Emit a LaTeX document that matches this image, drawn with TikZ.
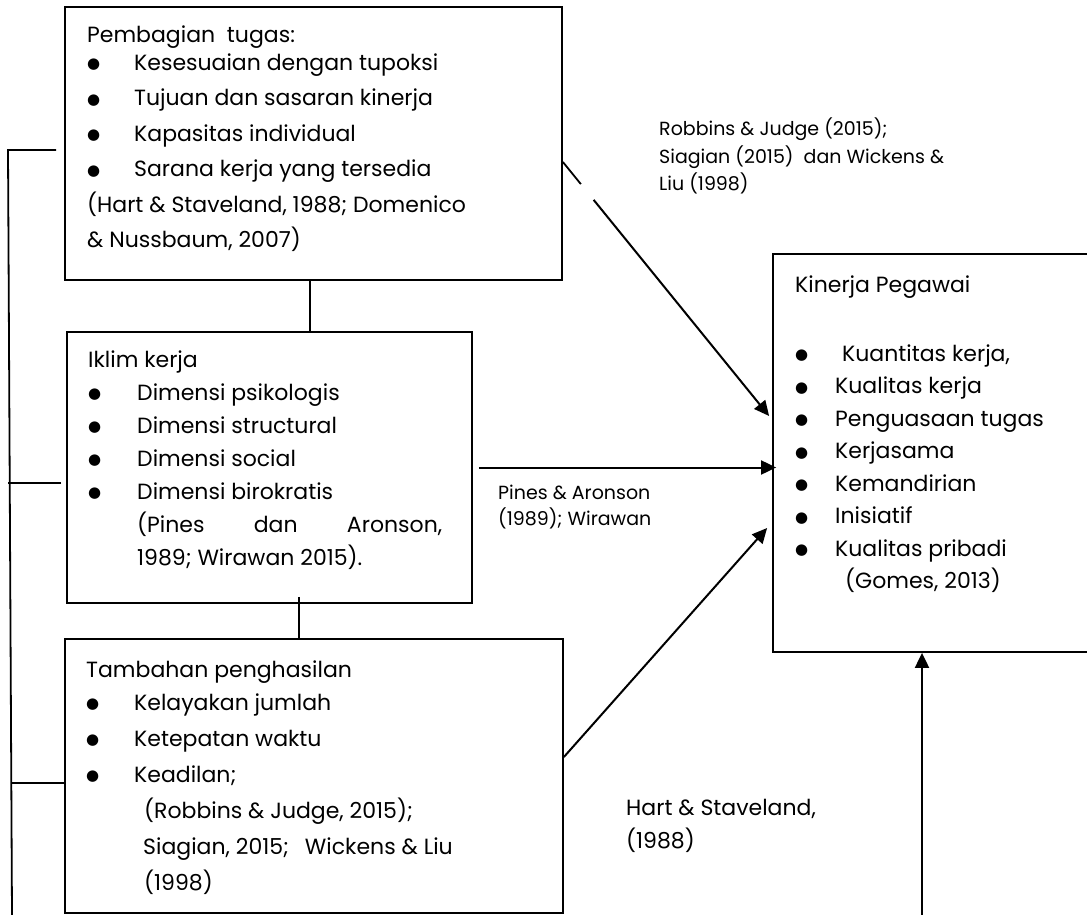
\documentclass[tikz,border=0pt]{standalone}
\usepackage{fontspec}
\setmainfont{Poppins}
\newfontfamily\dotfont{DejaVu Sans}
\usetikzlibrary{arrows.meta,calc}

\newcommand{\bul}[1][47pt]{\makebox[#1][l]{\raisebox{1.5pt}{\fontsize{15}{15}\dotfont ●}}}
\newcommand{\tstrut}{\rule{0pt}{20pt}}
\newcommand{\rstrut}{\rule{0pt}{17pt}}

\tikzset{
  box/.style={draw, line width=1.8pt, inner sep=0pt},
  txt/.style={anchor=north west, inner sep=0pt, align=left, font=\fontsize{22}{#1}\selectfont},
  txt/.default=35.5,
  ref/.style={anchor=north west, inner sep=0pt, align=left, font=\fontsize{19}{#1}\selectfont},
  ref/.default=27.5,
  link/.style={line width=1.8pt},
  arr/.style={line width=2pt, -{Triangle[length=15pt,width=14pt]}},
}

\begin{document}
\begin{tikzpicture}[x=1pt,y=-1pt]
\clip (0,0) rectangle (1087,915);
\fill[white] (0,0) rectangle (1087,915);

% kotak
\node[box, minimum width=497pt, minimum height=273pt] (tugas) at (313.5,143.5) {};
\node[box, minimum width=405pt, minimum height=271pt] (iklim) at (269.5,467.5) {};
\node[box, minimum width=498pt, minimum height=274pt] (tambahan) at (314,776) {};
\node[box, minimum width=337pt, minimum height=398pt] (kinerja) at (941.5,453) {};

% isi kotak
\node[txt] (tugas txt) at (87,22) {\tstrut Pembagian \ tugas:\\[-7.5pt]
  \bul Kesesuaian dengan tupoksi\\
  \bul Tujuan dan sasaran kinerja\\
  \bul Kapasitas individual\\
  \bul Sarana kerja yang tersedia\\
  (Hart \& Staveland, 1988; Domenico\\
  \& Nussbaum, 2007)};
\node[txt=33] (iklim txt) at (88,347) {\tstrut Iklim kerja\\
  \bul[49pt]Dimensi psikologis\\
  \bul[49pt]Dimensi structural\\
  \bul[49pt]Dimensi social\\
  \bul[49pt]Dimensi birokratis\\
  \hspace*{49pt}\makebox[305pt][s]{(Pines\hfill dan\hfill Aronson,}\\
  \hspace*{49pt}1989; Wirawan 2015).};
\node[txt=36] (tambahan txt) at (86,657) {\tstrut Tambahan penghasilan\\[-3pt]
  \bul[48pt]Kelayakan jumlah\\
  \bul[48pt]Ketepatan waktu\\
  \bul[48pt]Keadilan;\\
  \hspace*{58pt}(Robbins \& Judge, 2015);\\
  \hspace*{57pt}Siagian, 2015;\hspace{16pt}Wickens \& Liu\\
  \hspace*{58pt}(1998)};
\node[txt=32.5] (kinerja txt) at (795,272) {\tstrut Kinerja Pegawai\\[36.5pt]
  \bul[40pt]\hspace{7pt}Kuantitas kerja,\\
  \bul[40pt]Kualitas kerja\\
  \bul[40pt]Penguasaan tugas\\
  \bul[40pt]Kerjasama\\
  \bul[40pt]Kemandirian\\
  \bul[40pt]Inisiatif\\
  \bul[40pt]Kualitas pribadi\\
  \hspace*{50pt}(Gomes, 2013)};

% rujukan
\node[ref] (robbins) at (659,118) {\rstrut Robbins \& Judge (2015);\\
  Siagian (2015) \ dan Wickens \&\\
  Liu (1998)};
\node[ref=26] (pines) at (498,482) {\rstrut Pines \& Aronson\\ (1989); Wirawan};
\node[txt=33] (hart) at (626,795) {\tstrut Hart \& Staveland,\\ (1988)};

% garis penghubung
\draw[link] ([xshift=-3.5pt]tugas.south) -- ([xshift=-3.5pt]tugas.south |- iklim.north);
\draw[link] ([xshift=29.5pt,yshift=7pt]iklim.south) -- ([xshift=29.5pt]iklim.south |- tambahan.north);

\coordinate (spine top) at (8,150);
\coordinate (spine end) at (12,915);
\draw[link] ([xshift=-8pt,yshift=-6.5pt]tugas.west) -- (spine top) -- (spine end);
\draw[link] ([xshift=-5pt,yshift=-15.5pt]iklim.west) -- ++(-53,0);
\draw[link] ([yshift=-7pt]tambahan.west) -- ++(-52,0);

% panah ke kinerja
\coordinate (r1 start) at ([yshift=-18.5pt]tugas.east);
\coordinate (r1 end) at ([xshift=-3pt,yshift=37pt]kinerja.west);
\draw[link] (r1 start) -- ($(r1 start)!0.087!(r1 end)$);
\draw[arr] ($(r1 start)!0.149!(r1 end)$) -- (r1 end);
\draw[arr] ([xshift=6pt]iklim.east) -- ([xshift=4pt]iklim.east -| kinerja.west);
\draw[arr] ([yshift=19pt]tambahan.east) -- ([xshift=-5pt,yshift=-75pt]kinerja.west);
\coordinate (hart foot) at ([xshift=-19.5pt]kinerja.south |- spine end);
\draw[arr] (hart foot) -- ([xshift=-19.5pt]kinerja.south);
\end{tikzpicture}
\end{document}
